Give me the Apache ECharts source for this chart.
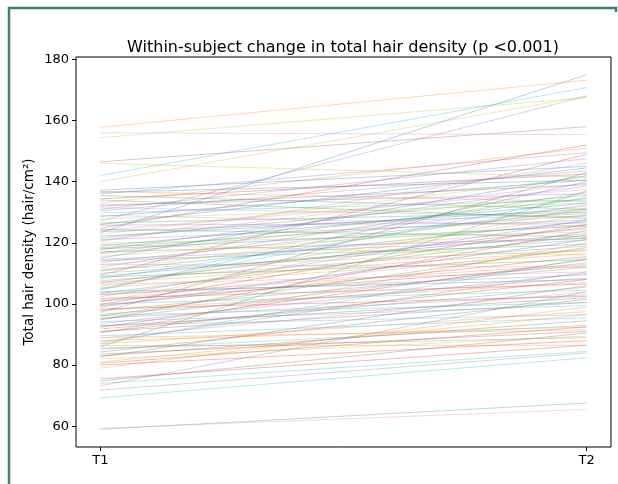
<!DOCTYPE html>
<html>
<head>
<meta charset="utf-8">
<script src="https://cdn.jsdelivr.net/npm/echarts@6/dist/echarts.min.js"></script>
<style>
  html, body { margin: 0; padding: 0; background: #fff; }
  #chart { width: 618px; height: 484px; }
</style>
</head>
<body>
<div id="chart"></div>
<script>
// Time points on the x axis
const timepoints = ['T1', 'T2'];

// Total hair density per subject (hair/cm²), paired by index
const densityT1 = [
  123.3, 157.8, 59.0, 124.8, 127.2, 146.5, 156.0, 71.8, 154.4, 142.0,
  104.6, 133.0, 86.0, 109.4, 136.0, 97.2, 59.3, 73.2, 140.0, 69.3,
  137.2, 136.8, 135.5, 134.4, 132.4, 132.0, 131.5, 130.5, 146.0, 129.8,
  128.6, 88.0, 126.5, 99.5, 125.8, 84.3, 124.0, 112.0, 122.8, 93.0,
  122.2, 105.2, 121.6, 80.0, 121.0, 117.0, 120.4, 96.6, 119.8, 108.2,
  119.0, 90.4, 118.4, 101.8, 117.8, 83.6, 116.4, 110.0, 115.6, 94.2,
  115.0, 103.0, 114.2, 75.5, 113.6, 107.0, 112.8, 91.8, 111.4, 100.0,
  110.8, 86.9, 108.8, 98.4, 107.6, 82.7, 106.4, 95.4, 105.8, 89.6,
  104.0, 79.0, 103.5, 92.4, 102.4, 74.8, 101.2, 97.8, 100.6, 85.2,
  99.0, 81.0, 96.0, 94.8, 93.6, 91.0, 88.8, 87.6, 82.0, 74.0,
  136.5, 86.4, 134.0, 80.6, 131.0, 83.0, 129.0, 85.6, 127.8, 87.0,
  126.0, 89.0, 124.4, 90.8, 123.6, 92.8, 120.8, 95.0, 119.4, 96.2,
  118.0, 98.0, 116.8, 99.8, 114.6, 101.0, 113.0, 103.2, 111.0, 105.0,
  109.0, 106.8
];
const densityT2 = [
  175.0, 173.2, 67.6, 152.0, 168.0, 158.0, 155.4, 84.0, 167.5, 170.8,
  140.0, 151.0, 137.0, 149.0, 149.5, 143.0, 65.5, 104.0, 168.0, 82.4,
  145.0, 133.5, 131.0, 142.5, 136.0, 139.0, 128.5, 143.5, 141.5, 134.0,
  140.5, 92.5, 130.0, 115.5, 126.5, 101.5, 137.5, 136.5, 141.5, 96.5,
  131.0, 116.5, 135.5, 88.0, 127.5, 121.5, 146.0, 108.5, 123.5, 132.5,
  133.0, 120.0, 129.0, 106.5, 138.5, 91.0, 132.0, 121.0, 126.0, 99.5,
  142.0, 113.0, 119.5, 86.5, 130.5, 125.0, 124.5, 105.5, 117.5, 104.5,
  127.0, 97.5, 114.5, 102.5, 119.0, 106.0, 110.5, 103.0, 129.0, 95.5,
  108.0, 99.0, 122.5, 114.5, 127.5, 90.5, 118.0, 112.0, 131.5, 93.0,
  121.0, 96.5, 118.5, 124.0, 110.0, 100.5, 104.0, 110.5, 89.5, 84.5,
  140.5, 86.5, 128.0, 92.5, 147.5, 94.5, 125.5, 89.0, 133.0, 115.0,
  144.5, 91.5, 122.0, 108.0, 129.5, 102.0, 139.5, 113.5, 116.0, 100.5,
  125.5, 107.0, 134.5, 126.0, 121.5, 112.5, 112.0, 109.5, 131.0, 135.0,
  123.0, 117.5
];

// Y axis tick values
const yTicks = [60, 80, 100, 120, 140, 160, 180];

const palette = ['#1f77b4', '#ff7f0e', '#2ca02c', '#d62728', '#9467bd',
                 '#8c564b', '#e377c2', '#7f7f7f', '#bcbd22', '#17becf'];

const FONT = 'DejaVu Sans';

// one faint line per subject, from T1 to T2
const series = densityT1.map((v, i) => ({
  type: 'line',
  data: [[0, v], [1, densityT2[i]]],
  symbol: 'none',
  silent: true,
  lineStyle: { width: 1, opacity: 0.32, color: palette[i % palette.length] }
}));

const chart = echarts.init(document.getElementById('chart'), null, { renderer: 'canvas' });
chart.setOption({
  animation: false,
  backgroundColor: '#ffffff',
  title: {
    text: 'Within-subject change in total hair density (p <0.001)',
    left: 338, top: 35, textAlign: 'center',
    textStyle: { fontFamily: FONT, fontSize: 16, fontWeight: 'normal', color: '#000' }
  },
  grid: {
    left: 76, right: 7, top: 57, bottom: 37,
    show: true, borderColor: '#000', borderWidth: 1, backgroundColor: 'transparent'
  },
  xAxis: {
    type: 'value', min: -0.05, max: 1.05,
    axisLine: { show: false, onZero: false },
    splitLine: { show: false },
    axisTick: { show: true, inside: false, length: 4, customValues: [0, 1], lineStyle: { color: '#000' } },
    axisLabel: {
      customValues: [0, 1], margin: 7,
      formatter: v => timepoints[Math.round(v)],
      fontFamily: FONT, fontSize: 13, color: '#000'
    }
  },
  yAxis: {
    type: 'value', min: 53.2, max: 180.8,
    name: 'Total hair density (hair/cm²)',
    nameLocation: 'middle', nameRotate: 90, nameGap: 40, nameMoveOverlap: false,
    nameTextStyle: { fontFamily: FONT, fontSize: 13.5, color: '#000' },
    axisLine: { show: false, onZero: false },
    splitLine: { show: false },
    axisTick: { show: true, inside: false, length: 4, customValues: yTicks, lineStyle: { color: '#000' } },
    axisLabel: {
      customValues: yTicks, margin: 7,
      fontFamily: FONT, fontSize: 13, color: '#000'
    }
  },
  graphic: [
    {
      type: 'polyline',
      shape: { points: [[9, 484], [9, 8], [616, 8], [616, 12]] },
      style: { stroke: '#3f7f7a', lineWidth: 2.5, fill: null }
    }
  ],
  series: series
});
</script>
</body>
</html>
